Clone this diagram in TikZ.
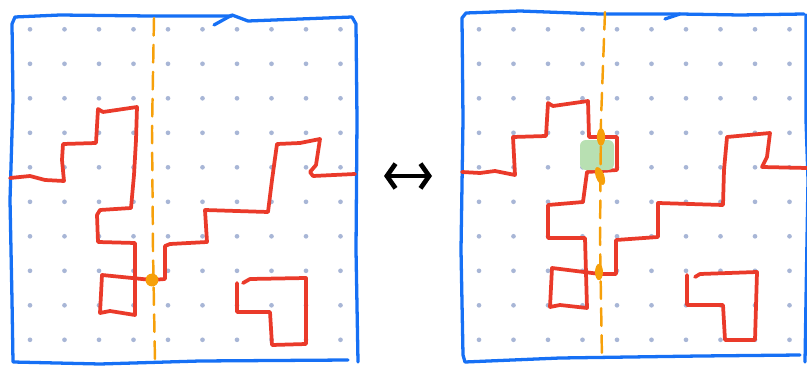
\documentclass[tikz,border=0pt]{standalone}
\usetikzlibrary{arrows.meta}
\definecolor{penblue}{RGB}{22,112,245}
\definecolor{penred}{RGB}{234,58,42}
\definecolor{penorange}{RGB}{246,160,10}
\definecolor{dotgray}{RGB}{168,182,214}
\definecolor{patchgreen}{RGB}{184,224,178}

\begin{document}
\begin{tikzpicture}[x=0.03cm, y=-0.03cm, % one unit = one pixel of the sketch
                    frame/.style={draw=penblue, line width=2.8pt, line cap=round, line join=round},
                    wall/.style={draw=penred, line width=3.2pt, line cap=round, line join=round},
                    cut/.style={draw=penorange, line width=2.1pt, line cap=round, dash pattern=on 15pt off 8pt},
                    blob/.style={fill=penorange},
                    gridpt/.style={fill=dotgray}]
  \useasboundingbox (0,0) rectangle (807,366);

  % Dot grids (left board, right board)
  \foreach \i in {0,...,9}
    \foreach \j in {0,...,9} {
      \fill[gridpt] (30+34.5*\i, 29.3+34.5*\j) circle[radius=2pt];
      \fill[gridpt] (479+34.5*\i, 29.3+34.5*\j) circle[radius=2pt];
    }

  % Left board frame
  \draw[frame] (214,25) -- (232,15) -- (248,21) -- (300,19) -- (352,17) -- (356,24)
               -- (357,120) -- (356,250) -- (358,362);
  \draw[frame] (232,16) -- (150,16) -- (60,15) -- (15,17) -- (12,24) -- (13,100)
               -- (10,200) -- (12,300) -- (13,362) -- (100,364) -- (200,361) -- (348,360);

  % Right board frame
  \draw[frame] (665,19) -- (680,14) -- (740,15) -- (804,14);
  \draw[frame] (680,14) -- (600,14) -- (520,11) -- (466,13) -- (462,18) -- (463,120)
               -- (461,250) -- (463,355) -- (465,362) -- (560,358) -- (700,356) -- (800,355);
  \draw[frame] (806,15) -- (806,120) -- (808,180) -- (806,300) -- (805,362);

  % Left board walls
  \draw[wall] (10,178) -- (30,176) -- (45,180) -- (64,181) -- (62,160) -- (63,144)
              -- (96,143) -- (98,109) -- (103,112) -- (137,107) -- (136,140) -- (134,175)
              -- (131,208) -- (100,210) -- (97,215) -- (98,242) -- (135,243) -- (135,315)
              -- (110,311) -- (100,313) -- (102,275) -- (152,280) -- (165,279) -- (165,246)
              -- (170,244) -- (207,242) -- (205,210) -- (268,212) -- (272,180) -- (277,144)
              -- (300,143) -- (320,139) -- (316,165) -- (310,172) -- (313,176) -- (355,174);
  \draw[wall] (237,283) -- (237,312) -- (270,312) -- (272,345) -- (306,344) -- (306,278)
              -- (250,279) -- (243,283);

  % Right board walls
  \draw[wall] (462,172) -- (480,173) -- (495,171) -- (515,175) -- (513,137) -- (546,136)
              -- (548,103) -- (553,106) -- (588,101) -- (589,137) -- (617,137) -- (617,170)
              -- (587,172) -- (583,202) -- (548,205) -- (548,238) -- (585,238) -- (587,308)
              -- (560,305) -- (550,307) -- (552,268) -- (600,274) -- (616,274) -- (616,240)
              -- (658,237) -- (658,203) -- (723,205) -- (724,170) -- (727,137) -- (770,133)
              -- (767,157) -- (762,167) -- (807,168);
  \draw[wall] (687,275) -- (687,305) -- (723,305) -- (725,340) -- (755,340) -- (757,272)
              -- (700,274) -- (695,277);

  % Patched cell
  \fill[patchgreen, rounded corners=5pt] (580,140) rectangle (614,170);

  % Cut lines and crossings
  \draw[cut] (154,18) -- (152,130) -- (153,250) -- (155,362);
  \draw[cut] (605,12) -- (601,120) -- (600,240) -- (602,360);
  \fill[blob] (152,280) circle[radius=5.5pt];
  \fill[blob] (601,137) ellipse[x radius=3.5pt, y radius=7.5pt];
  \fill[blob, rotate around={20:(600,176)}] (600,176) ellipse[x radius=3.6pt, y radius=8pt];
  \fill[blob] (599,272) ellipse[x radius=3.4pt, y radius=7pt];

  % Swap arrow between the boards
  \coordinate (swapL) at (384,176);
  \coordinate (swapR) at (432,176);
  \draw[line width=4pt, line cap=round,
        {Straight Barb[length=2.6mm, width=7.4mm]}-{Straight Barb[length=2.6mm, width=7.4mm]}]
        (swapL) -- (swapR);
\end{tikzpicture}
\end{document}
